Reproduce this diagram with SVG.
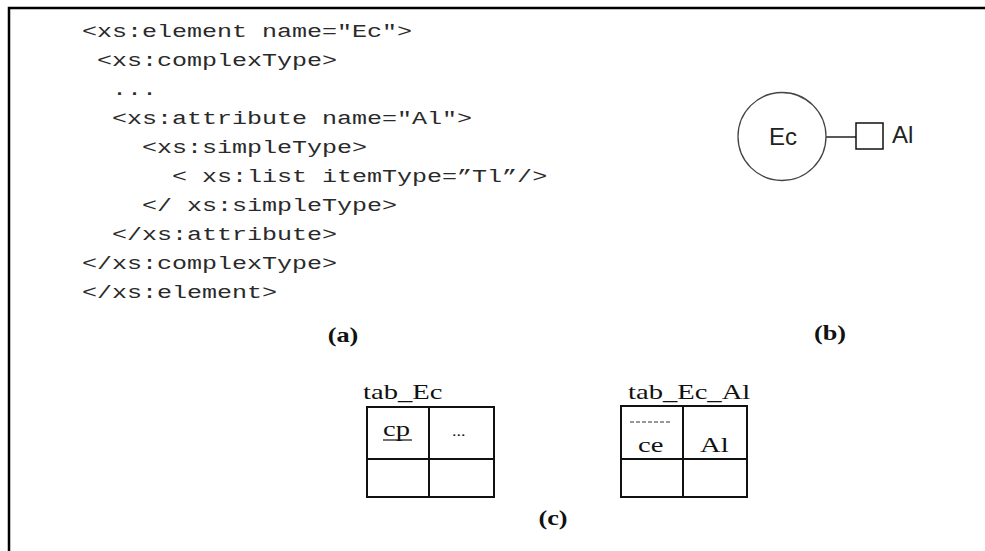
<svg xmlns="http://www.w3.org/2000/svg" width="985" height="551" viewBox="0 0 985 551">
<style>
.code{font-family:"Liberation Mono","Courier New",monospace;font-size:18px;fill:#2a2a2a}
.ser{font-family:"Liberation Serif","Times New Roman",serif;font-size:22px;fill:#111}
.cap{font-family:"Liberation Serif","Times New Roman",serif;font-size:21px;font-weight:bold;fill:#111}
.sans{font-family:"Liberation Sans",Arial,sans-serif;font-size:24px;fill:#222}
.tb{fill:none;stroke:#111;stroke-width:2}
</style>
<rect width="985" height="551" fill="#fff"/>
<g id="frame" fill="none" stroke="#000" stroke-width="2.5">
<polyline points="9,551 9,8 985,8"/>
</g>
<g id="code-a">
<text class="code" transform="translate(82 37) scale(1.39 1)">&lt;xs:element name="Ec"&gt;</text>
<text class="code" transform="translate(97 66) scale(1.39 1)">&lt;xs:complexType&gt;</text>
<text class="code" transform="translate(112 95) scale(1.39 1)">...</text>
<text class="code" transform="translate(112 124) scale(1.39 1)">&lt;xs:attribute name="Al"&gt;</text>
<text class="code" transform="translate(142 153) scale(1.39 1)">&lt;xs:simpleType&gt;</text>
<text class="code" transform="translate(172 182) scale(1.39 1)">&lt; xs:list itemType=”Tl”/&gt;</text>
<text class="code" transform="translate(142 211) scale(1.39 1)">&lt;/ xs:simpleType&gt;</text>
<text class="code" transform="translate(112 240) scale(1.39 1)">&lt;/xs:attribute&gt;</text>
<text class="code" transform="translate(82 269) scale(1.39 1)">&lt;/xs:complexType&gt;</text>
<text class="code" transform="translate(82 298) scale(1.39 1)">&lt;/xs:element&gt;</text>
<text class="cap" transform="translate(343 342) scale(1.25 1)" text-anchor="middle">(a)</text>
</g>
<g id="connectors">
<line x1="826" y1="137" x2="856" y2="137" stroke="#222" stroke-width="1.5"/>
</g>
<g id="node-Ec">
<circle cx="782" cy="136.5" r="44" fill="none" stroke="#444" stroke-width="1.3"/>
<text class="sans" x="783" y="145" text-anchor="middle">Ec</text>
</g>
<g id="node-Al">
<rect x="856" y="123" width="27" height="26" fill="none" stroke="#111" stroke-width="1.5"/>
<text class="sans" x="892" y="143">Al</text>
</g>
<text class="cap" transform="translate(830 340) scale(1.25 1)" text-anchor="middle">(b)</text>
<g id="table-tab_Ec">
<text class="ser" transform="translate(363 399) scale(1.3 1)">tab_Ec</text>
<rect class="tb" x="367" y="407" width="127" height="90"/>
<line class="tb" x1="429" y1="407" x2="429" y2="497"/>
<line class="tb" x1="367" y1="459" x2="494" y2="459"/>
<text class="ser" transform="translate(383 436) scale(1.3 1)">cp</text>
<line x1="383" y1="440" x2="412" y2="440" stroke="#111" stroke-width="1.2"/>
<text class="ser" transform="translate(452 436) scale(1.2 1)" style="font-size:15px">...</text>
</g>
<g id="table-tab_Ec_Al">
<text class="ser" transform="translate(628 399) scale(1.3 1)">tab_Ec_Al</text>
<rect class="tb" x="621" y="406" width="126" height="91"/>
<line class="tb" x1="683" y1="406" x2="683" y2="497"/>
<line class="tb" x1="621" y1="459" x2="747" y2="459"/>
<line x1="630" y1="422" x2="670" y2="422" stroke="#333" stroke-width="1" stroke-dasharray="4 2"/>
<text class="ser" transform="translate(638 452) scale(1.3 1)">ce</text>
<text class="ser" transform="translate(700 452) scale(1.3 1)">Al</text>
</g>
<text class="cap" transform="translate(553 525) scale(1.25 1)" text-anchor="middle">(c)</text>
</svg>
